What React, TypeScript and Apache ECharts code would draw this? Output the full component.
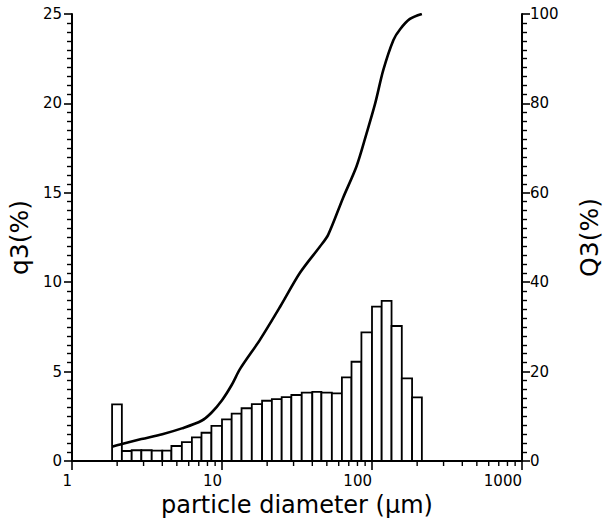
import React, { useEffect, useRef } from "react";
import * as echarts from "echarts";

// bin edges (µm) of the q3 histogram
const binEdges = [1.85, 2.15, 2.5, 2.9, 3.4, 4.0, 4.6, 5.4, 6.3, 7.3, 8.5, 10, 11.6, 13.5, 15.8, 18.5, 21.5, 25, 29, 34, 40, 46, 54, 63, 73, 85, 100, 116, 135, 158, 185, 215];
// q3 (%) per bin
const q3Values = [3.17, 0.56, 0.6, 0.6, 0.58, 0.58, 0.84, 1.06, 1.32, 1.58, 1.96, 2.33, 2.65, 2.95, 3.18, 3.37, 3.46, 3.57, 3.69, 3.82, 3.87, 3.82, 3.78, 4.68, 5.55, 7.19, 8.63, 8.96, 7.55, 4.62, 3.56];
// cumulative Q3 curve
const curveDiameters = [1.85, 2.15, 2.9, 4.0, 5.4, 7.3, 8.5, 10, 11.6, 13.2, 17.9, 24.4, 33.1, 45, 51, 64, 79, 92, 105, 119, 139, 154, 179, 215];
const curveQ3 = [3.2, 3.8, 4.9, 6.0, 7.3, 9.0, 10.8, 13.6, 17.0, 20.6, 27.1, 34.5, 42.1, 48.0, 50.6, 58.8, 66.0, 73.3, 80.0, 87.5, 94.2, 96.6, 98.9, 100];
// minor tick positions of the log x axis
const xMinorTicks = [2, 3, 4, 5, 6, 7, 8, 9, 20, 30, 40, 50, 60, 70, 80, 90, 200, 300, 400, 500, 600, 700, 800, 900];

const FONT = "DejaVu Sans";

export default function App() {
  const ref = useRef<HTMLDivElement>(null);
  useEffect(() => {
    if (!ref.current) return;
    const chart = echarts.init(ref.current, undefined, { renderer: "svg" });
    const bars = q3Values.map((v, i) => [binEdges[i], binEdges[i + 1], v]);
    const curve = curveDiameters.map((d, i) => [d, curveQ3[i]]);
    chart.setOption({
      animation: false,
      grid: { left: 72, right: 84, top: 14, bottom: 57, outerBoundsMode: "none" },
      xAxis: [
        {
          type: "log",
          logBase: 10,
          min: 1,
          max: 1000,
          name: "particle diameter (µm)",
          nameLocation: "middle",
          nameGap: 22,
          nameTextStyle: { fontFamily: FONT, fontSize: 24, color: "#000" },
          axisLine: { show: true, onZero: false, lineStyle: { color: "#000", width: 2 } },
          axisTick: { show: true, length: 9, lineStyle: { color: "#000", width: 1.6 } },
          axisLabel: {
            fontFamily: FONT,
            fontSize: 15,
            color: "#000",
            margin: 12,
            align: "right",
            formatter: (v: number) => String(Math.round(v)),
          },
          splitLine: { show: false },
        },
      ],
      yAxis: [
        {
          type: "value",
          min: 0,
          max: 25,
          interval: 5,
          position: "left",
          name: "q3(%)",
          nameLocation: "middle",
          nameRotate: 90,
          nameGap: 36,
          nameTextStyle: { fontFamily: FONT, fontSize: 25, color: "#000" },
          axisLine: { show: true, onZero: false, lineStyle: { color: "#000", width: 2 } },
          axisTick: { show: true, length: 8, lineStyle: { color: "#000", width: 1.6 } },
          minorTick: { show: true, splitNumber: 10, length: 5, lineStyle: { color: "#000", width: 1.4 } },
          axisLabel: { fontFamily: FONT, fontSize: 15, color: "#000", margin: 10 },
          splitLine: { show: false },
        },
        {
          type: "value",
          min: 0,
          max: 100,
          interval: 20,
          position: "right",
          name: "Q3(%)",
          nameLocation: "middle",
          nameRotate: 90,
          nameGap: 55,
          nameTextStyle: { fontFamily: FONT, fontSize: 25, color: "#000" },
          axisLine: { show: true, onZero: false, lineStyle: { color: "#000", width: 2 } },
          axisTick: { show: true, length: 8, lineStyle: { color: "#000", width: 1.6 } },
          minorTick: { show: true, splitNumber: 10, length: 5, lineStyle: { color: "#000", width: 1.4 } },
          axisLabel: { fontFamily: FONT, fontSize: 15, color: "#000", margin: 8 },
          splitLine: { show: false },
        },
      ],
      series: [
        {
          type: "custom",
          clip: false,
          encode: { x: 0 },
          data: xMinorTicks.map((v) => [v]),
          renderItem: (params: any, api: any) => {
            const p = api.coord([api.value(0), 0]);
            return {
              type: "line",
              shape: { x1: p[0], y1: p[1], x2: p[0], y2: p[1] + 5 },
              style: { stroke: "#000", lineWidth: 1.4 },
            };
          },
        },
        {
          type: "custom",
          xAxisIndex: 0,
          yAxisIndex: 0,
          encode: { x: [0, 1], y: 2 },
          data: bars,
          renderItem: (params: any, api: any) => {
            const p0 = api.coord([api.value(0), 0]);
            const p1 = api.coord([api.value(1), api.value(2)]);
            return {
              type: "rect",
              shape: { x: p0[0], y: p1[1], width: p1[0] - p0[0], height: p0[1] - p1[1] },
              style: { fill: "#fff", stroke: "#000", lineWidth: 1.8 },
            };
          },
        },
        {
          type: "line",
          xAxisIndex: 0,
          yAxisIndex: 1,
          data: curve,
          smooth: 0.3,
          showSymbol: false,
          symbol: "none",
          lineStyle: { color: "#000", width: 2.6 },
        },
      ],
    });
    return () => chart.dispose();
  }, []);
  return <div ref={ref} style={{ position: "fixed", left: 0, top: 0, width: 606, height: 518, background: "#fff" }} />;
}
